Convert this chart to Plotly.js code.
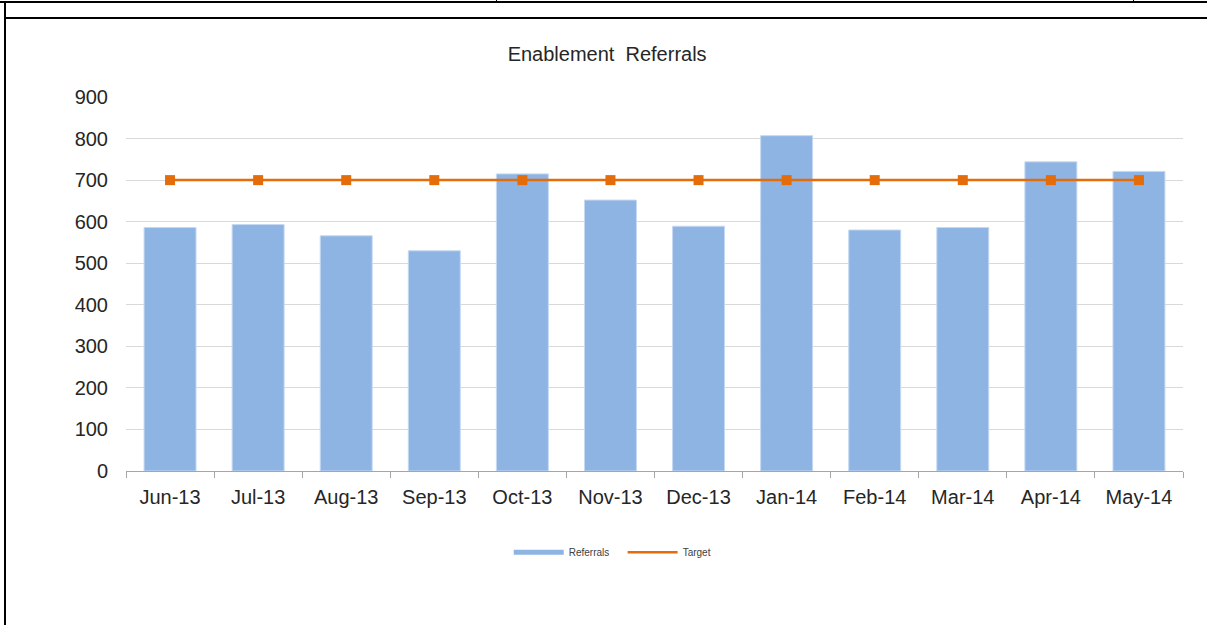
<!DOCTYPE html>
<html>
<head>
<meta charset="utf-8">
<script src="https://cdn.plot.ly/plotly-3.0.1.min.js"></script>
<style>
  html, body { margin: 0; padding: 0; background: #fff; }
  #wrap { position: relative; width: 1207px; height: 625px; overflow: hidden; }
  #chart { position: absolute; left: 0; top: 0; width: 1207px; height: 625px; }
  .ln { position: absolute; background: #000; }
</style>
</head>
<body>
<div id="wrap">
  <div id="chart"></div>
  <div class="ln" style="left:0;top:1px;width:1207px;height:2px;"></div>
  <div class="ln" style="left:4px;top:17px;width:1203px;height:2px;"></div>
  <div class="ln" style="left:4px;top:1px;width:2px;height:624px;"></div>
  <div class="ln" style="left:496px;top:0;width:1px;height:3px;"></div>
  <div class="ln" style="left:1133px;top:0;width:1px;height:3px;"></div>
</div>
<script>
const categories = ["Jun-13","Jul-13","Aug-13","Sep-13","Oct-13","Nov-13","Dec-13","Jan-14","Feb-14","Mar-14","Apr-14","May-14"];
const referrals = [586, 593, 566, 530, 715, 652, 589, 807, 580, 586, 744, 721];
const target = [700, 700, 700, 700, 700, 700, 700, 700, 700, 700, 700, 700];
const yTicks = [0, 100, 200, 300, 400, 500, 600, 700, 800, 900];

const FONT = "Liberation Sans, Arial, sans-serif";
const BAR = "#8eb4e3";
const ORANGE = "#e46c0a";

const traces = [
  {
    type: "bar", x: categories, y: referrals, name: "Referrals",
    marker: { color: BAR, line: { color: "#c6d9f1", width: 1 } },
    showlegend: false, hoverinfo: "x+y"
  },
  {
    type: "scatter", mode: "lines+markers", x: categories, y: target, name: "Target",
    line: { color: ORANGE, width: 2.5 },
    marker: { symbol: "square", size: 10, color: ORANGE },
    showlegend: false
  },
  {
    type: "scatter", mode: "lines", x: [null], y: [null], name: "Referrals\u00a0\u00a0\u00a0",
    line: { color: BAR, width: 5 }, showlegend: true, hoverinfo: "skip"
  },
  {
    type: "scatter", mode: "lines", x: [null], y: [null], name: "Target",
    line: { color: ORANGE, width: 2.5 }, showlegend: true, hoverinfo: "skip"
  }
];

const layout = {
  width: 1207, height: 625,
  margin: { l: 126, r: 24, t: 97, b: 154 },
  paper_bgcolor: "#fff", plot_bgcolor: "#fff",
  font: { family: FONT, color: "#262626" },
  title: {
    text: "Enablement  Referrals",
    font: { family: FONT, size: 20, color: "#262626" },
    x: 0.503, xanchor: "center", y: 0.913, yanchor: "middle"
  },
  bargap: 0.41,
  xaxis: {
    type: "category",
    range: [-0.5, categories.length - 0.5],
    autorange: false,
    showgrid: false,
    showline: true, linecolor: "#a6a6a6", linewidth: 1,
    ticks: "outside", tickson: "boundaries", ticklen: 6, tickcolor: "#a6a6a6",
    ticklabelstandoff: 8,
    tickfont: { family: FONT, size: 20, color: "#262626" },
    zeroline: false, fixedrange: true
  },
  yaxis: {
    range: [0, 900],
    tickvals: yTicks,
    showgrid: true, gridcolor: "#d9d9d9", gridwidth: 1,
    showline: false, zeroline: false, ticks: "",
    ticklabelstandoff: 17,
    tickfont: { family: FONT, size: 20, color: "#262626" },
    fixedrange: true
  },
  showlegend: true,
  legend: {
    orientation: "h", x: 0.460, xanchor: "center", y: -0.217, yanchor: "middle",
    font: { family: FONT, size: 10, color: "#404040" },
    itemwidth: 50, tracegroupgap: 0
  }
};

Plotly.newPlot("chart", traces, layout, { displayModeBar: false, staticPlot: true });
</script>
</body>
</html>
